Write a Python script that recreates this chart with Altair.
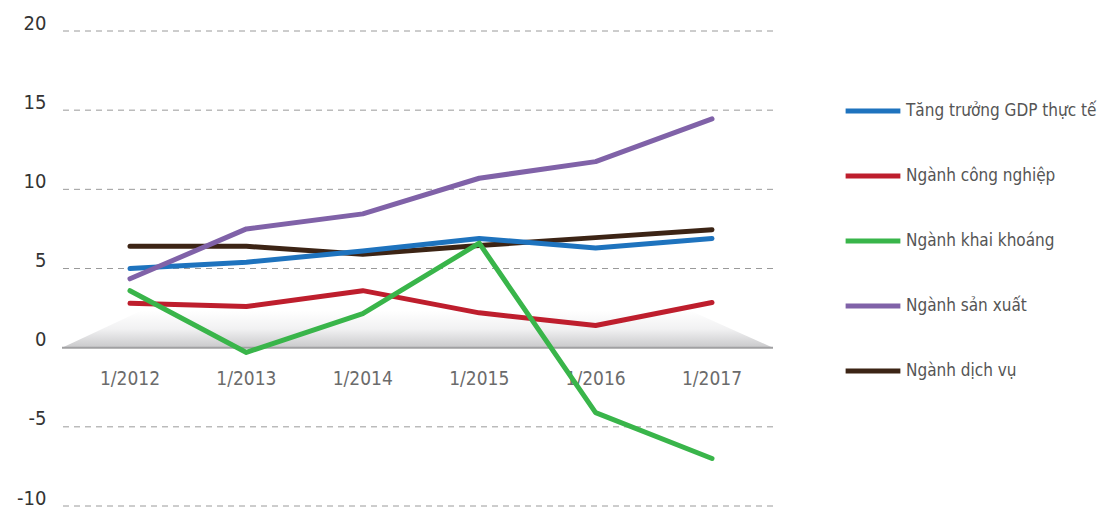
import altair as alt
import pandas as pd

# ---- data ----
years = ["1/2012", "1/2013", "1/2014", "1/2015", "1/2016", "1/2017"]
series_names = ["Tăng trưởng GDP thực tế", "Ngành công nghiệp", "Ngành khai khoáng",
                "Ngành sản xuất", "Ngành dịch vụ"]
colors = ["#1e73be", "#be1e2d", "#39b54a", "#8062a8", "#3c2415"]
gdp = [5.0, 5.4, 6.1, 6.9, 6.3, 6.9]
cong_nghiep = [2.8, 2.6, 3.6, 2.2, 1.4, 2.85]
khai_khoang = [3.6, -0.3, 2.15, 6.6, -4.1, -7.0]
san_xuat = [4.35, 7.5, 8.45, 10.7, 11.75, 14.45]
dich_vu = [6.4, 6.4, 5.9, 6.45, 6.95, 7.45]
grid_values = [20, 15, 10, 5, -5, -10]
y_ticks = [-10, -5, 0, 5, 10, 15, 20]
# shaded "floor" under the zero line (x index, value)
floor_x = [-0.584, 0.1, 4.81, 5.524]
floor_y = [0, 2.34, 2.34, 0]

FONT = "Liberation Sans Narrow, DejaVu Sans Condensed, sans-serif"
X_DOMAIN = [-0.584, 5.524]

values_by_series = {
    "Ngành dịch vụ": dich_vu,
    "Ngành công nghiệp": cong_nghiep,
    "Tăng trưởng GDP thực tế": gdp,
    "Ngành sản xuất": san_xuat,
    "Ngành khai khoáng": khai_khoang,
}
rows = []
for s, vals in values_by_series.items():
    for i, v in enumerate(vals):
        rows.append({"i": i, "year": years[i], "series": s, "value": v})
df = pd.DataFrame(rows)
df_grid = pd.DataFrame({"g": grid_values})
df_floor = pd.DataFrame({"x": floor_x, "y": floor_y})
df_zero = pd.DataFrame({"z": [0]})
df_labels = pd.DataFrame({"i": list(range(len(years))), "label": years, "y": [-1.95] * len(years)})

xs = alt.Scale(domain=X_DOMAIN, nice=False, zero=False)
ys = alt.Scale(domain=[-10, 20], nice=False)

grid = alt.Chart(df_grid).mark_rule(color="#9a9a9a", strokeWidth=1, strokeDash=[6, 5]).encode(
    y=alt.Y("g:Q", scale=ys,
            axis=alt.Axis(values=y_ticks, title=None, grid=False, domain=False, ticks=False,
                          labelFontSize=20, labelFont=FONT, labelColor="#333333",
                          labelPadding=16, labelOffset=-8,
                          labelExpr="replace(datum.label, '\u2212', '-')"))
)

floor = alt.Chart(df_floor).mark_area(
    color=alt.Gradient(
        gradient="linear", x1=0, y1=0, x2=0, y2=1,
        stops=[alt.GradientStop(color="#ffffff", offset=0),
               alt.GradientStop(color="#f1f1f2", offset=0.5),
               alt.GradientStop(color="#c9c9cb", offset=1)],
    )
).encode(
    x=alt.X("x:Q", scale=xs, axis=None),
    y=alt.Y("y:Q", scale=ys),
    y2=alt.datum(0),
)

zero = alt.Chart(df_zero).mark_rule(color="#a0a0a2", strokeWidth=2).encode(
    y=alt.Y("z:Q", scale=ys)
)

xlab = alt.Chart(df_labels).mark_text(font=FONT, fontSize=19, color="#6b6b6b", baseline="middle").encode(
    x=alt.X("i:Q", scale=xs, axis=None),
    y=alt.Y("y:Q", scale=ys),
    text="label:N",
)

lines = alt.Chart(df).mark_line(strokeWidth=5, strokeCap="round", strokeJoin="round").encode(
    x=alt.X("i:Q", scale=xs, axis=None),
    y=alt.Y("value:Q", scale=ys),
    color=alt.Color("series:N",
                    scale=alt.Scale(domain=series_names, range=colors),
                    legend=alt.Legend(title=None, orient="none", legendX=781, legendY=50,
                                      symbolType="stroke", symbolSize=3000, symbolStrokeWidth=5,
                                      labelFontSize=17, labelFont=FONT, labelColor="#555555",
                                      labelOffset=3, rowPadding=25, padding=0,
                                      labelLimit=400)),
)

chart = alt.layer(grid, floor, zero, xlab, lines).properties(
    width=711, height=475,
    padding={"left": 54, "top": 23, "right": 326, "bottom": 2},
    autosize="none",
).configure_view(stroke=None)

chart.save("out.html", embed_options={"renderer": "svg", "actions": False})
